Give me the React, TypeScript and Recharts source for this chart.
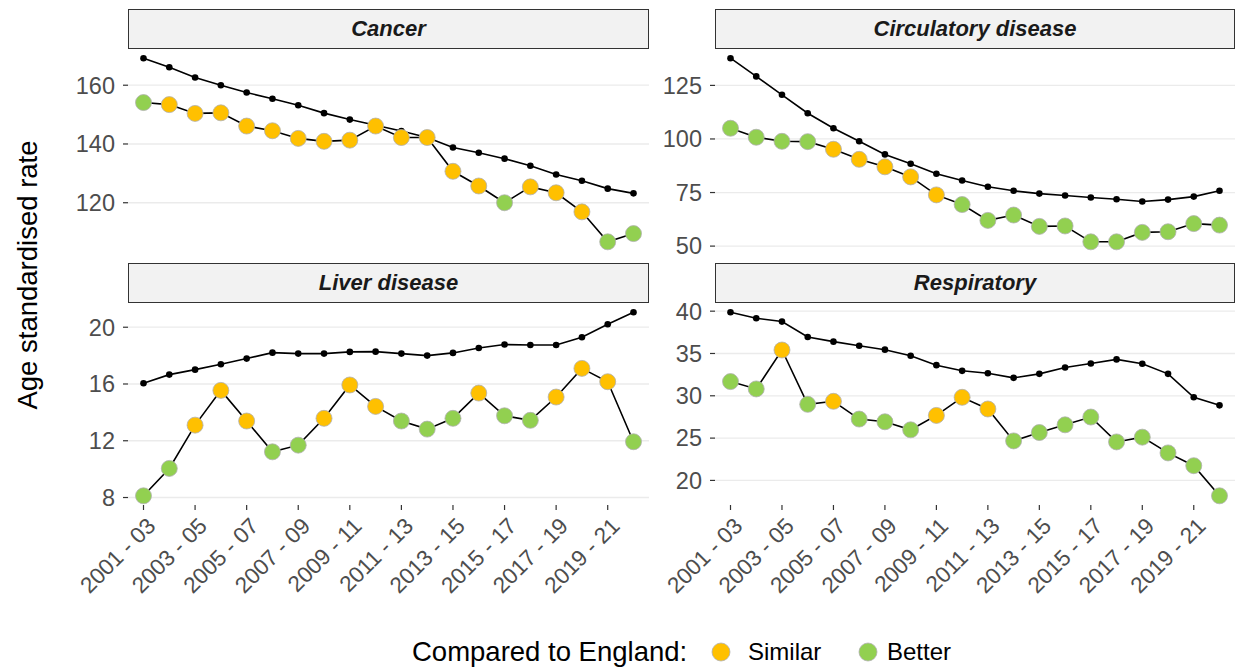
import React from 'react';
import { LineChart, Line, XAxis, YAxis, CartesianGrid } from 'recharts';

const periods = [
  '2001 - 03', '2002 - 04', '2003 - 05', '2004 - 06', '2005 - 07',
  '2006 - 08', '2007 - 09', '2008 - 10', '2009 - 11', '2010 - 12',
  '2011 - 13', '2012 - 14', '2013 - 15', '2014 - 16', '2015 - 17',
  '2016 - 18', '2017 - 19', '2018 - 20', '2019 - 21', '2020 - 22',
];

const cancerLocal = [154.1, 153.4, 150.4, 150.6, 146.1, 144.5, 141.9, 140.9, 141.3, 146.1, 142.2, 142.2, 130.7, 125.7, 120.0, 125.4, 123.4, 116.9, 106.7, 109.5];
const cancerEngland = [169.2, 166.1, 162.6, 160.0, 157.5, 155.4, 153.2, 150.5, 148.3, 146.4, 144.4, 142.2, 138.8, 137.0, 135.0, 132.6, 129.6, 127.5, 124.8, 123.2];
const cancerStatus = ['B', 'S', 'S', 'S', 'S', 'S', 'S', 'S', 'S', 'S', 'S', 'S', 'S', 'S', 'B', 'S', 'S', 'S', 'B', 'B'];

const circLocal = [105.0, 100.8, 98.9, 98.75, 95.2, 90.5, 87.0, 82.3, 73.9, 69.4, 62.0, 64.5, 59.2, 59.4, 52.0, 52.0, 56.4, 56.7, 60.5, 59.8];
const circEngland = [137.7, 129.2, 120.6, 112.0, 105.0, 98.9, 92.8, 88.4, 83.75, 80.6, 77.7, 75.8, 74.5, 73.6, 72.7, 71.9, 70.8, 71.7, 73.1, 75.8];
const circStatus = ['B', 'B', 'B', 'B', 'S', 'S', 'S', 'S', 'S', 'B', 'B', 'B', 'B', 'B', 'B', 'B', 'B', 'B', 'B', 'B'];

const liverLocal = [8.12, 10.05, 13.1, 15.55, 13.39, 11.22, 11.69, 13.58, 15.93, 14.42, 13.39, 12.82, 13.58, 15.36, 13.76, 13.44, 15.08, 17.1, 16.16, 11.93];
const liverEngland = [16.05, 16.66, 17.01, 17.39, 17.79, 18.21, 18.14, 18.14, 18.26, 18.28, 18.14, 18.0, 18.19, 18.54, 18.78, 18.75, 18.75, 19.29, 20.21, 21.06];
const liverStatus = ['B', 'B', 'S', 'S', 'S', 'B', 'B', 'S', 'S', 'S', 'B', 'B', 'B', 'S', 'B', 'B', 'S', 'S', 'S', 'B'];

const respLocal = [31.68, 30.81, 35.41, 28.99, 29.35, 27.25, 26.93, 25.98, 27.68, 29.82, 28.44, 24.67, 25.66, 26.57, 27.49, 24.55, 25.11, 23.25, 21.74, 18.18];
const respEngland = [39.88, 39.17, 38.77, 36.95, 36.40, 35.92, 35.45, 34.73, 33.62, 32.95, 32.67, 32.12, 32.59, 33.35, 33.82, 34.30, 33.78, 32.59, 29.82, 28.87];
const respStatus = ['B', 'B', 'S', 'B', 'S', 'B', 'B', 'B', 'S', 'S', 'S', 'B', 'B', 'B', 'B', 'B', 'B', 'B', 'B', 'B'];

const cancerTicks = [120, 140, 160];
const circTicks = [50, 75, 100, 125];
const liverTicks = [8, 12, 16, 20];
const respTicks = [20, 25, 30, 35, 40];

const SIMILAR = '#FFC000';
const BETTER = '#92D050';
const FONT = '"Liberation Sans", Arial, sans-serif';

const buildRows = (local: number[], england: number[], status: string[]) =>
  periods.map((p, i) => ({ period: p, local: local[i], england: england[i], status: status[i] }));

// ggplot-style 5% expansion of the y range
const expandDomain = (a: number[], b: number[]): [number, number] => {
  const lo = Math.min(...a, ...b);
  const hi = Math.max(...a, ...b);
  const pad = (hi - lo) * 0.05;
  return [lo - pad, hi + pad];
};

const renderLocalDot = (props: any) => {
  const { cx, cy, payload, index } = props;
  return (
    <circle
      key={`ld-${index}`}
      cx={cx}
      cy={cy}
      r={8}
      fill={payload.status === 'S' ? SIMILAR : BETTER}
      stroke="#B0B0B0"
      strokeWidth={0.8}
    />
  );
};

const XTick = (props: any) => {
  const { x, y, payload } = props;
  return (
    <g transform={`translate(${x + 2},${y + 4})`}>
      <text transform="rotate(-45)" textAnchor="end" dy="0.71em" fontSize={22.5} fill="#4D4D4D" fontFamily={FONT}>
        {payload.value}
      </text>
    </g>
  );
};

interface PanelProps {
  title: string;
  rows: any[];
  domain: [number, number];
  ticks: number[];
  left: number;
  axisWidth: number;
  plotWidth: number;
  top: number;
  bottom: boolean;
}

const PAD_TOP = 14;
const PAD_BOTTOM = 16;
const PLOT_H = 202;

function Panel({ title, rows, domain, ticks, left, axisWidth, plotWidth, top, bottom }: PanelProps) {
  const xAxisH = bottom ? 110 : 0;
  // gridlines only at the major ticks (no line along the panel's lower edge)
  const gridAtTicks = (p: any) => {
    const scale = p?.yAxis?.scale;
    if (typeof scale === 'function') return ticks.map((t) => scale(t));
    return ticks.map((t) => PAD_TOP + ((domain[1] - t) / (domain[1] - domain[0])) * PLOT_H);
  };
  return (
    <>
      <div
        style={{
          position: 'absolute',
          left: left + axisWidth,
          top: top - 40,
          width: plotWidth,
          height: 40,
          boxSizing: 'border-box',
          border: '1.3px solid #333333',
          background: '#F2F2F2',
          display: 'flex',
          alignItems: 'center',
          justifyContent: 'center',
          fontFamily: FONT,
          fontWeight: 'bold',
          fontStyle: 'italic',
          fontSize: 22,
          color: '#1A1A1A',
        }}
      >
        {title}
      </div>
      <div style={{ position: 'absolute', left, top: top - PAD_TOP }}>
        <LineChart
          width={axisWidth + plotWidth + 6}
          height={PAD_TOP + PLOT_H + xAxisH + (bottom ? 0 : PAD_BOTTOM)}
          data={rows}
          margin={{ top: PAD_TOP, right: 6, bottom: bottom ? 0 : PAD_BOTTOM, left: 0 }}
        >
          <CartesianGrid
            horizontal
            vertical={false}
            stroke="#EBEBEB"
            strokeWidth={1.3}
            horizontalCoordinatesGenerator={gridAtTicks}
          />
          <XAxis
            dataKey="period"
            hide={!bottom}
            height={xAxisH}
            interval={1}
            padding={{ left: 15.5, right: 15.5 }}
            axisLine={false}
            tickLine={{ stroke: '#333333', strokeWidth: 1.2 }}
            tickSize={5}
            tickMargin={2}
            tick={<XTick />}
          />
          <YAxis
            type="number"
            domain={domain}
            ticks={ticks}
            interval={0}
            allowDataOverflow
            width={axisWidth}
            axisLine={false}
            tickLine={{ stroke: '#333333', strokeWidth: 1.2 }}
            tickSize={5}
            tickMargin={8}
            tick={{ fontSize: 23.5, fill: '#4D4D4D', fontFamily: FONT }}
          />
          <Line
            type="linear"
            dataKey="england"
            stroke="#000000"
            strokeWidth={1.6}
            dot={{ r: 3.3, fill: '#000000', stroke: '#000000', strokeWidth: 0 }}
            activeDot={false}
            isAnimationActive={false}
          />
          <Line
            type="linear"
            dataKey="local"
            stroke="#000000"
            strokeWidth={1.6}
            dot={renderLocalDot}
            activeDot={false}
            isAnimationActive={false}
          />
        </LineChart>
      </div>
    </>
  );
}

export default function App() {
  return (
    <div style={{ position: 'absolute', left: 0, top: 0, width: 1236, height: 668, background: '#FFFFFF', fontFamily: FONT }}>
      <svg style={{ position: 'absolute', left: 0, top: 0 }} width={60} height={668}>
        <text
          transform="translate(27,275) rotate(-90)"
          textAnchor="middle"
          dominantBaseline="central"
          fontSize={27.5}
          fill="#000000"
          fontFamily={FONT}
        >
          Age standardised rate
        </text>
      </svg>

      <Panel title="Cancer" rows={buildRows(cancerLocal, cancerEngland, cancerStatus)}
        domain={expandDomain(cancerLocal, cancerEngland)} ticks={cancerTicks}
        left={0} axisWidth={128} plotWidth={521} top={49} bottom={false} />
      <Panel title="Circulatory disease" rows={buildRows(circLocal, circEngland, circStatus)}
        domain={expandDomain(circLocal, circEngland)} ticks={circTicks}
        left={650} axisWidth={65} plotWidth={520} top={49} bottom={false} />
      <Panel title="Liver disease" rows={buildRows(liverLocal, liverEngland, liverStatus)}
        domain={expandDomain(liverLocal, liverEngland)} ticks={liverTicks}
        left={0} axisWidth={128} plotWidth={521} top={303} bottom />
      <Panel title="Respiratory" rows={buildRows(respLocal, respEngland, respStatus)}
        domain={expandDomain(respLocal, respEngland)} ticks={respTicks}
        left={650} axisWidth={65} plotWidth={520} top={303} bottom />

      <svg style={{ position: 'absolute', left: 0, top: 620 }} width={1236} height={48}>
        <text x={412} y={41} fontSize={27.5} fill="#000000" fontFamily={FONT}>Compared to England:</text>
        <circle cx={721} cy={32} r={9} fill={SIMILAR} stroke="#B0B0B0" strokeWidth={0.8} />
        <text x={748} y={40} fontSize={24} fill="#000000" fontFamily={FONT}>Similar</text>
        <circle cx={868} cy={32} r={9} fill={BETTER} stroke="#B0B0B0" strokeWidth={0.8} />
        <text x={887} y={40} fontSize={24} fill="#000000" fontFamily={FONT}>Better</text>
      </svg>
    </div>
  );
}
